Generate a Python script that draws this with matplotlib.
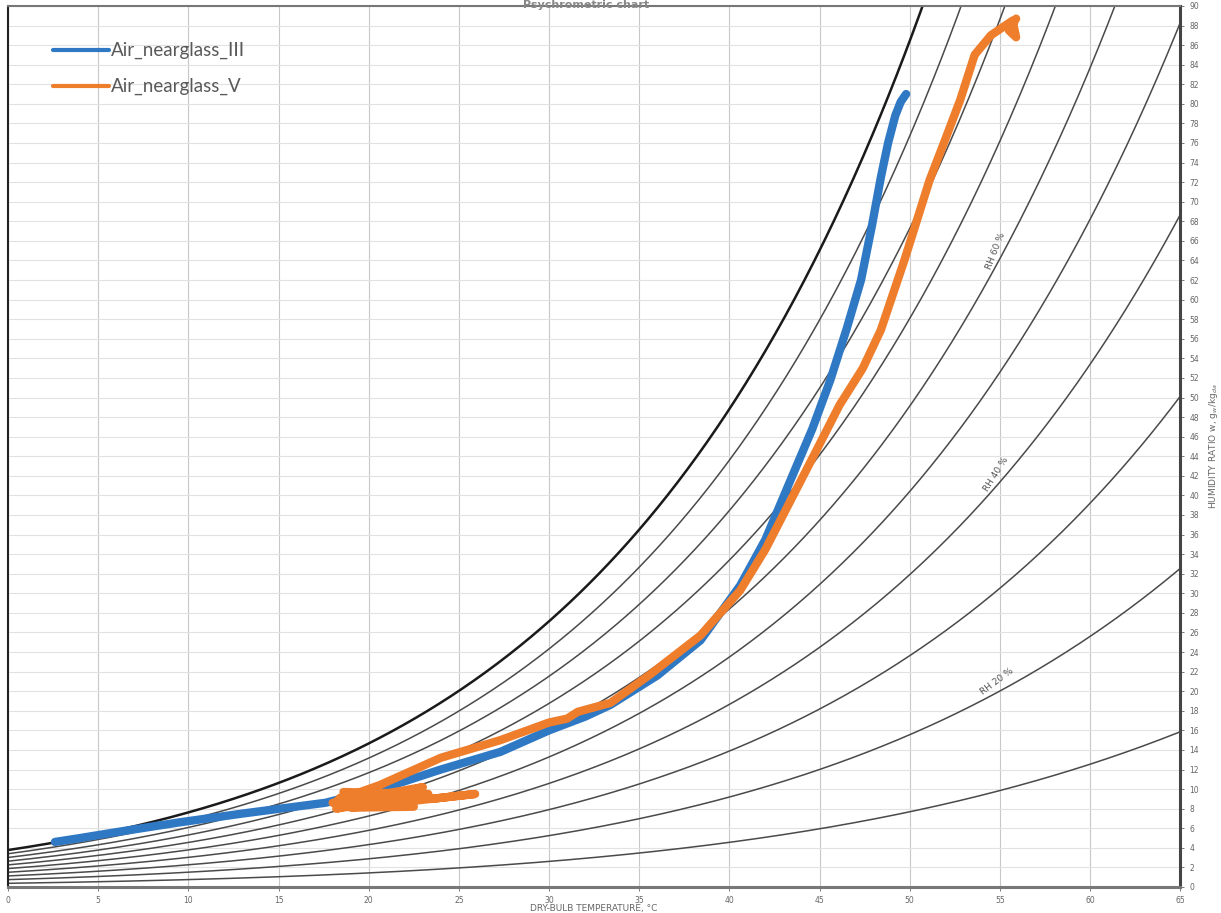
import matplotlib
matplotlib.use("Agg")
import matplotlib.pyplot as plt
import numpy as np

# psychrometric background
P_ATM = 101.325  # kPa
rh_levels = [10, 20, 30, 40, 50, 60, 70, 80, 90, 100]
rh_labels = {60: 55.0, 40: 55.0, 20: 55.0}

x_ticks = list(range(0, 70, 5))
y_ticks = list(range(0, 92, 2))

# measured air states (dry-bulb degC, humidity ratio g/kg)
blue_t = [2.6, 4.0, 6.0, 9.5, 13.0, 17.6, 21.0, 24.0, 27.3, 30.0, 32.0, 33.4, 36.0,
          38.4, 40.6, 42.0, 43.4, 44.6, 45.6, 46.5, 47.3, 47.9, 48.4, 48.8, 49.2,
          49.5, 49.8]
blue_w = [4.6, 5.0, 5.6, 6.6, 7.5, 8.6, 10.2, 12.0, 13.8, 16.0, 17.4, 18.6, 21.6,
          25.2, 30.8, 35.5, 41.6, 46.8, 51.8, 57.0, 62.0, 67.5, 72.5, 76.0, 78.8,
          80.2, 81.0]

orange_t = [18.0, 23.0, 18.2, 23.3, 18.6, 22.5, 19.0, 23.0, 18.4, 22.0, 25.9, 23.5,
            21.0, 18.3, 20.6, 24.0, 27.3, 30.0, 31.0, 31.6, 33.4, 35.6, 38.4, 40.6,
            42.0, 43.4, 44.8, 46.1, 47.4, 48.4, 49.7, 51.1, 52.0, 52.8, 53.6, 54.5,
            55.3, 55.7, 55.9, 55.5, 55.9]
orange_w = [8.6, 10.2, 8.0, 9.5, 9.7, 8.2, 8.1, 9.0, 9.1, 8.7, 9.5, 9.0,
            9.2, 8.9, 10.4, 13.2, 15.0, 16.8, 17.2, 17.9, 18.8, 21.7, 25.7, 30.3,
            34.5, 39.5, 44.5, 49.2, 53.0, 56.9, 64.0, 72.2, 76.5, 80.4, 85.0, 87.0,
            88.0, 88.5, 86.8, 87.5, 88.7]


def p_sat(t):
    return 0.61094 * np.exp(17.625 * t / (t + 243.04))


def hum_ratio(t, rh):
    pv = rh / 100.0 * p_sat(t)
    return 622.0 * pv / (P_ATM - pv)


fig = plt.figure(figsize=(12.21, 9.13), dpi=100)
ax = fig.add_axes([0.0066, 0.0285, 0.96, 0.965])

t = np.linspace(0, 65, 600)
for rh in rh_levels:
    w = hum_ratio(t, rh)
    if rh == 100:
        ax.plot(t, w, color='#1a1a1a', lw=1.8, zorder=2)
    else:
        ax.plot(t, w, color='#4a4a4a', lw=1.1, zorder=2)
    if rh in rh_labels:
        tx = rh_labels[rh]
        wx = hum_ratio(tx, rh)
        p1 = ax.transData.transform((tx - 0.5, hum_ratio(tx - 0.5, rh)))
        p2 = ax.transData.transform((tx + 0.5, hum_ratio(tx + 0.5, rh)))
        ang = np.degrees(np.arctan2(p2[1] - p1[1], p2[0] - p1[0]))
        ax.text(tx, wx + 0.6, 'RH %d %%' % rh, rotation=ang, fontsize=6.5,
                color='#555555', ha='center', va='bottom', rotation_mode='anchor')

ax.plot(blue_t, blue_w, color='#2f78c4', lw=6, solid_capstyle='round',
        solid_joinstyle='round', zorder=3, label='Air_nearglass_III')
ax.plot(orange_t, orange_w, color='#ee7d2c', lw=6, solid_capstyle='round',
        solid_joinstyle='round', zorder=4, label='Air_nearglass_V')

ax.set_xlim(0, 65)
ax.set_ylim(0, 90)
ax.set_xticks(x_ticks)
ax.set_yticks(y_ticks)
ax.grid(True, axis='x', color='#c8c8c8', lw=0.8)
ax.grid(True, axis='y', color='#e2e2e2', lw=0.8)
ax.set_axisbelow(True)

ax.yaxis.tick_right()
ax.yaxis.set_label_position('right')
ax.tick_params(axis='both', labelsize=5.5, labelcolor='#666666', color='#666666',
               length=3, width=0.6)
ax.spines['right'].set_linewidth(2.2)
ax.spines['right'].set_color('#444444')
ax.spines['bottom'].set_linewidth(2.2)
ax.spines['bottom'].set_color('#777777')
ax.spines['top'].set_linewidth(1.5)
ax.spines['top'].set_color('#777777')
ax.spines['left'].set_linewidth(1.5)
ax.spines['left'].set_color('#222222')

ax.set_xlabel('DRY-BULB TEMPERATURE, °C', fontsize=6.5, color='#666666', labelpad=3)
ax.xaxis.set_label_coords(0.5, -0.019)
ax.set_ylabel('HUMIDITY RATIO w, g$_w$/kg$_{da}$', fontsize=6.5, color='#666666',
              labelpad=6)

fig.text(0.48, 0.9995, 'Psychrometric chart', fontsize=8, color='#888888',
         fontweight='bold', ha='center', va='top')

leg = ax.legend(loc='upper left', bbox_to_anchor=(0.024, 0.978), frameon=False,
                handlelength=3.0, handletextpad=0.1, labelspacing=1.0,
                prop={'family': 'Lato', 'size': 13.5})
for txt in leg.get_texts():
    txt.set_color('#595959')
for line in leg.get_lines():
    line.set_linewidth(3)

fig.savefig('out.png', dpi=100)
